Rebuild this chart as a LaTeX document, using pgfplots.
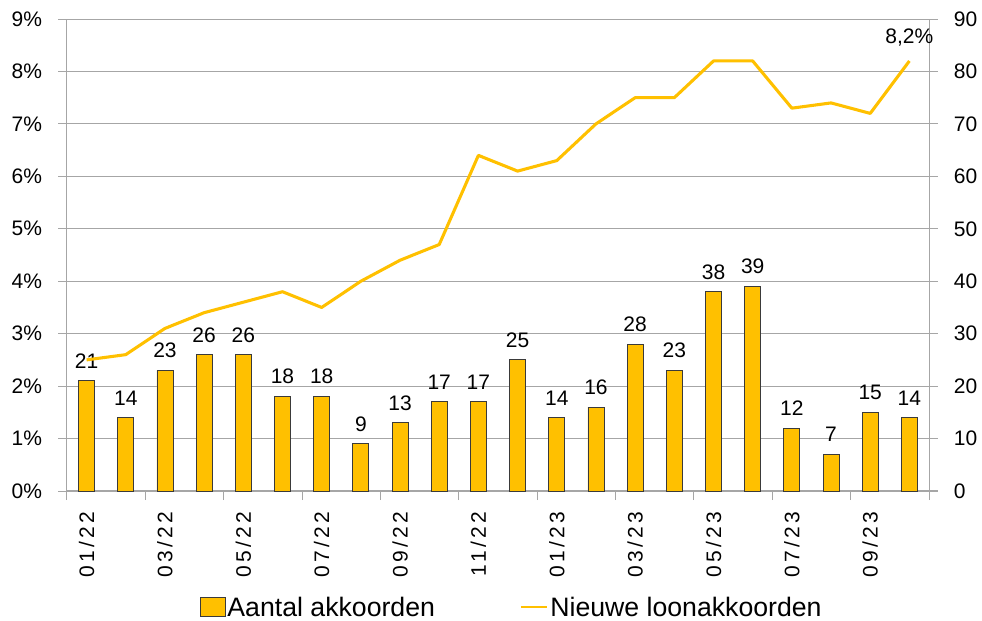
\documentclass[border=0pt]{standalone}
\usepackage{fontspec}
\setmainfont{Liberation Sans}
\newfontfamily\spacedfont[LetterSpace=16]{Liberation Sans}
\usepackage{pgfplots}
\pgfplotsset{compat=1.18}
\definecolor{gold}{HTML}{FFC000}
\definecolor{gridgray}{HTML}{A6A6A6}
\definecolor{baredge}{HTML}{3A3A3A}
\newcommand\tickfont{\fontsize{15.75}{18}\selectfont}
\newcommand\legfont{\fontsize{20}{24}\selectfont}
\pgfplotsset{
  barlegend/.style={legend image code/.code={\draw[##1] (0pt,-7.3pt) rectangle (18.5pt,7.3pt);}},
  linelegend/.style={legend image code/.code={\draw[##1, line width=2pt] (0pt,0pt) -- (19.5pt,0pt);}},
}
\begin{document}
\begin{tikzpicture}
% bars: number of agreements (right axis)
\begin{axis}[
  scale only axis, width=646.5pt, height=354pt,
  xmin=-0.5, xmax=21.5, ymin=0, ymax=90,
  axis y line*=right, axis x line*=bottom,
  axis line style={draw=gridgray, line width=0.75pt},
  ybar, bar width=12pt,
  ymajorgrids, grid style={draw=gridgray, line width=0.75pt},
  ytick={0,10,...,90},
  tick align=outside, major tick length=6.5pt, minor tick length=6.75pt,
  tick style={draw=gridgray, line width=0.75pt},
  /pgf/number format/assume math mode=true,
  yticklabel style={font=\tickfont, anchor=west, inner sep=0pt, xshift=12pt},
  xtick={0,2,4,6,8,10,12,14,16,18,20},
  xticklabels={01/22,03/22,05/22,07/22,09/22,11/22,01/23,03/23,05/23,07/23,09/23},
  major x tick style={draw=none},
  minor xtick={-0.5,1.5,3.5,5.5,7.5,9.5,11.5,13.5,15.5,17.5,19.5,21.5},
  xticklabel style={font=\tickfont\spacedfont, rotate=90, anchor=east, inner sep=0pt, xshift=-9pt},
  nodes near coords,
  nodes near coords style={font=\tickfont, anchor=south, inner sep=0pt, yshift=9pt},
  clip=false,
]
\addplot[fill=gold, draw=baredge, line width=0.6pt] coordinates {
(0,21) (1,14) (2,23) (3,26) (4,26) (5,18) (6,18) (7,9) (8,13) (9,17) (10,17)
(11,25) (12,14) (13,16) (14,28) (15,23) (16,38) (17,39) (18,12) (19,7) (20,15) (21,14)
};
\end{axis}
% line: new wage agreements (left axis, %)
\begin{axis}[
  scale only axis, width=646.5pt, height=354pt,
  xmin=-0.5, xmax=21.5, ymin=0, ymax=9,
  axis y line*=left, axis x line=none,
  axis line style={draw=gridgray, line width=0.75pt},
  ytick={0,1,...,9},
  tick align=outside, major tick length=6.5pt,
  tick style={draw=gridgray, line width=0.75pt},
  yticklabel={\pgfmathprintnumber[assume math mode=true]{\tick}\%},
  yticklabel style={font=\tickfont, anchor=east, inner sep=0pt, xshift=-12pt},
  clip=false,
  legend style={draw=none, fill=none, font=\legfont, legend columns=2,
    at={(0.516,-0.246)}, anchor=center,
    /tikz/every even column/.append style={column sep=62pt},
    nodes={inner sep=1.5pt, text depth=0pt}},
  legend cell align=left,
]
\addlegendimage{fill=gold, draw=baredge, line width=0.6pt, barlegend}
\addlegendentry{Aantal akkoorden}
\addplot[color=gold, line width=2.3pt, line join=round, mark=none, linelegend] coordinates {
(0,2.5) (1,2.6) (2,3.1) (3,3.4) (4,3.6) (5,3.8) (6,3.5) (7,4.0) (8,4.4) (9,4.7) (10,6.4)
(11,6.1) (12,6.3) (13,7.0) (14,7.5) (15,7.5) (16,8.2) (17,8.2) (18,7.3) (19,7.4) (20,7.2) (21,8.2)
};
\addlegendentry{Nieuwe loonakkoorden}
\addplot[draw=none, mark=none, forget plot, point meta=explicit symbolic,
  nodes near coords, nodes near coords style={font=\tickfont, anchor=south, inner sep=0pt, yshift=11pt}]
  coordinates {(21,8.2) [8,2\%]};
\end{axis}
\pgfresetboundingbox
\useasboundingbox (-50.25pt,-97.5pt) rectangle (686.25pt,368.25pt);
\end{tikzpicture}
\end{document}
